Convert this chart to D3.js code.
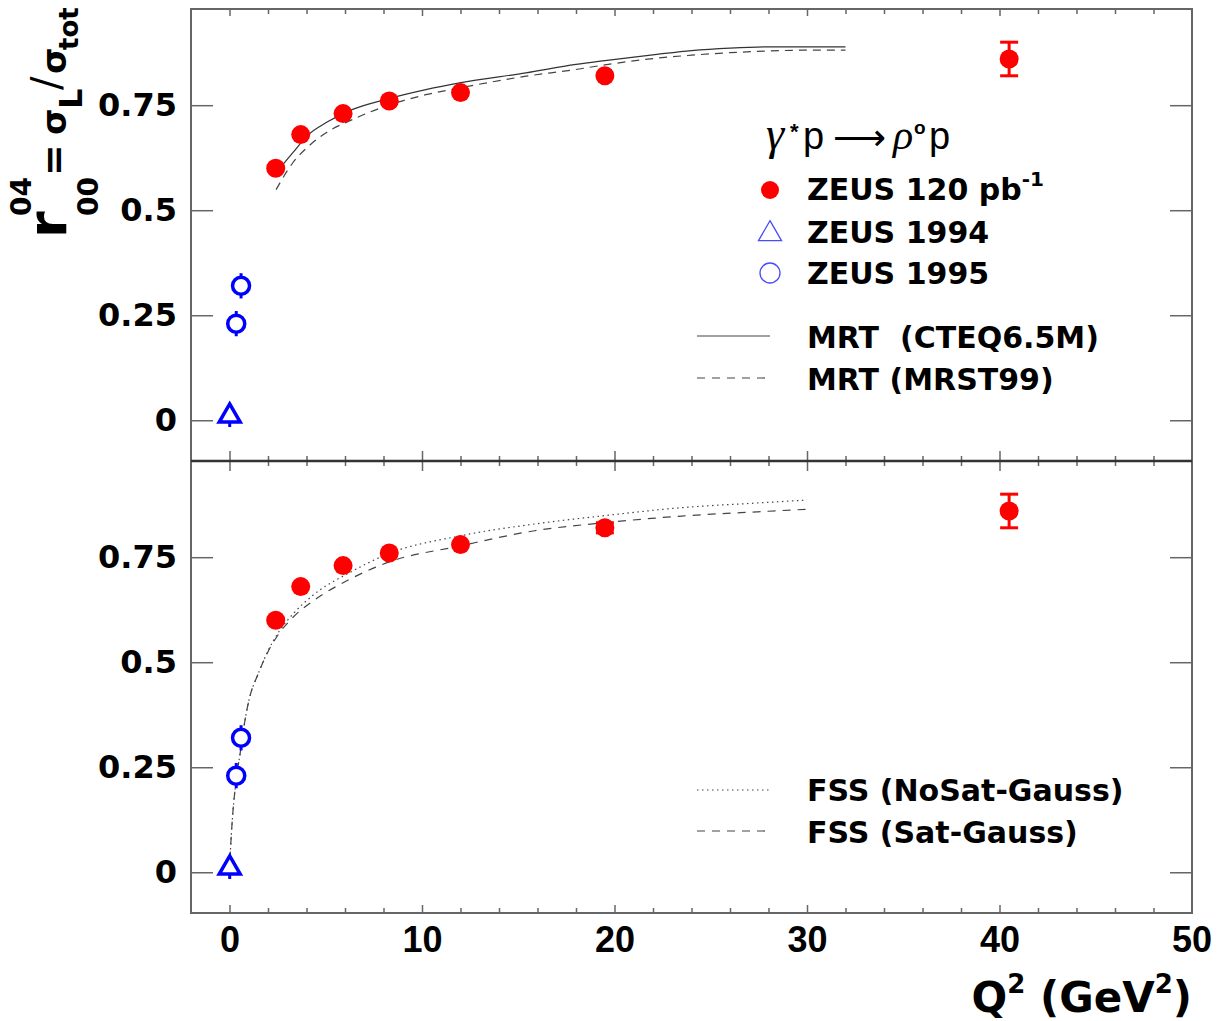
<html>
  <head>
    <meta charset="utf-8"/>
    <style>
      body {
        margin: 0;
        background: white;
      }
    </style>
    <script src="https://d3js.org/d3.v7.min.js"></script>
  </head>
  <body>
    <script>
    // ---- data ----
    // ZEUS 120 pb-1
    var zeusQ2 = [2.4, 3.7, 5.9, 8.3, 12.0, 19.5, 40.5];
    var zeusR = [0.60, 0.68, 0.73, 0.76, 0.78, 0.82, 0.86];
    var zeusErrTop = [0, 0, 0, 0, 0, 0, 0.04];
    var zeusErrBottom = [0, 0, 0, 0, 0, 0.012, 0.04];
    // ZEUS 1994
    var zeus94Q2 = [0.01];
    var zeus94R = [0.01];
    var zeus94Err = [0.026];
    // ZEUS 1995
    var zeus95Q2 = [0.35, 0.6];
    var zeus95R = [0.23, 0.32];
    var zeus95Err = [0.03, 0.03];

    // MRT curves (top panel)
    var mrtCteqQ2 = [2.42, 3.29, 4.1, 5.0, 6.4, 8.14, 10.2, 11.95, 15.4, 18.0, 19.5, 22.2, 24, 26, 28, 30, 32];
    var mrtCteqR = [0.589, 0.637, 0.680, 0.708, 0.740, 0.764, 0.787, 0.803, 0.827, 0.847, 0.856, 0.871, 0.880, 0.886, 0.889, 0.889, 0.889];
    var mrtMrstQ2 = [2.42, 3.29, 4.1, 5.0, 6.4, 8.14, 10.2, 11.95, 15.4, 18.0, 19.5, 22.2, 24, 26, 28, 30, 32];
    var mrtMrstR = [0.549, 0.613, 0.652, 0.684, 0.716, 0.748, 0.775, 0.791, 0.819, 0.835, 0.846, 0.862, 0.869, 0.875, 0.879, 0.881, 0.881];

    // FSS curves (bottom panel)
    var fssNoSatQ2 = [0.02, 0.17, 0.35, 0.61, 0.78, 1.04, 1.47, 2.0, 2.6, 3.3, 4.35, 6.27, 8.19, 12.0, 15.85, 19.7, 23.5, 27.4, 30];
    var fssNoSatR = [0.03, 0.14, 0.22, 0.30, 0.355, 0.415, 0.47, 0.527, 0.575, 0.615, 0.66, 0.714, 0.757, 0.801, 0.829, 0.850, 0.868, 0.879, 0.886];
    var fssSatQ2 = [0.02, 0.17, 0.35, 0.61, 0.78, 1.04, 1.47, 2.0, 2.6, 3.3, 4.35, 6.27, 8.19, 12.0, 15.85, 19.7, 23.5, 27.4, 30];
    var fssSatR = [0.03, 0.14, 0.22, 0.30, 0.355, 0.415, 0.47, 0.525, 0.57, 0.607, 0.646, 0.698, 0.737, 0.777, 0.813, 0.833, 0.848, 0.858, 0.864];

    var xMajor = [0, 10, 20, 30, 40, 50];
    var xMinor = d3.range(2, 50, 2).filter(d => d % 10 != 0);
    var yMajor = [0, 0.25, 0.5, 0.75];

    var W = 1219, H = 1021;
    var left = 191, right = 1192;
    var svg = d3.select("body").append("svg").attr("width", W).attr("height", H)
      .attr("font-family", "DejaVu Sans").attr("font-weight", "bold");

    var x = d3.scaleLinear().domain([-2, 50]).range([left, right]);
    var panels = [
      {top: 9, bottom: 461},
      {top: 461, bottom: 913}
    ];
    panels.forEach(p => {
      p.y = d3.scaleLinear().domain([-0.097, 0.979]).range([p.bottom, p.top]);
    });

    function pts(xs, ys) { return xs.map((q, i) => [q, ys[i]]); }

    var frameCol = "#666";

    panels.forEach((p, pi) => {
      var g = svg.append("g");
      var y = p.y;

      // y axes (left with labels, right ticks only)
      var ly = g.append("g").attr("transform", "translate(" + left + ",0)")
        .call(d3.axisLeft(y).tickValues(yMajor).tickSize(-22).tickSizeOuter(0).tickPadding(14)
          .tickFormat(d => d == 0 ? "0" : String(d)));
      ly.select(".domain").remove();
      ly.selectAll("line").attr("stroke", frameCol).attr("stroke-width", 1.5);
      ly.selectAll("text").attr("font-family", "DejaVu Sans").attr("font-weight", "bold")
        .attr("font-size", 32).attr("fill", "#000");

      var ry = g.append("g").attr("transform", "translate(" + right + ",0)")
        .call(d3.axisRight(y).tickValues(yMajor).tickSize(-22).tickSizeOuter(0).tickFormat(""));
      ry.select(".domain").remove();
      ry.selectAll("line").attr("stroke", frameCol).attr("stroke-width", 1.5);

      // x ticks on bottom and top edges of panel
      var bigB = pi == 0 ? 10 : 8, bigT = pi == 0 ? 7 : 10;
      var bx = g.append("g").attr("transform", "translate(0," + p.bottom + ")")
        .call(d3.axisBottom(x).tickValues(xMajor.slice(0, 5)).tickSize(-bigB).tickSizeOuter(0).tickPadding(13)
          .tickFormat(d => pi == 1 ? d : ""));
      var bx2 = g.append("g").attr("transform", "translate(0," + p.bottom + ")")
        .call(d3.axisBottom(x).tickValues(xMinor).tickSize(-5).tickSizeOuter(0).tickFormat(""));
      var tx = g.append("g").attr("transform", "translate(0," + p.top + ")")
        .call(d3.axisTop(x).tickValues(xMajor.slice(0, 5)).tickSize(-bigT).tickSizeOuter(0).tickFormat(""));
      var tx2 = g.append("g").attr("transform", "translate(0," + p.top + ")")
        .call(d3.axisTop(x).tickValues(xMinor).tickSize(-5).tickSizeOuter(0).tickFormat(""));
      [bx, bx2, tx, tx2].forEach(a => {
        a.select(".domain").remove();
        a.selectAll("line").attr("stroke", frameCol).attr("stroke-width", 1.5);
      });
      if (pi == 1) {
        // label "50" sits at the frame edge
        bx.append("g").attr("class", "tick").attr("transform", "translate(" + x(50) + ",0)")
          .append("text").attr("y", 13).attr("dy", "0.71em").text("50");
        bx.selectAll("text").attr("font-family", "Liberation Sans").attr("font-weight", "bold")
          .attr("font-size", 36).attr("fill", "#000").attr("text-anchor", "middle");
      }

      // frame
      g.append("rect").attr("x", left).attr("y", p.top)
        .attr("width", right - left).attr("height", p.bottom - p.top)
        .attr("fill", "none").attr("stroke", frameCol).attr("stroke-width", 2);
    });

    // separator
    svg.append("line").attr("x1", left).attr("x2", right)
      .attr("y1", panels[0].bottom).attr("y2", panels[0].bottom)
      .attr("stroke", "#333").attr("stroke-width", 2.5);

    // ---- curves ----
    var topP = panels[0], botP = panels[1];
    function lineFor(p) {
      return d3.line().x(d => x(d[0])).y(d => p.y(d[1])).curve(d3.curveMonotoneX);
    }
    svg.append("path").datum(pts(mrtCteqQ2, mrtCteqR)).attr("d", lineFor(topP))
      .attr("fill", "none").attr("stroke", "#333").attr("stroke-width", 1.2);
    svg.append("path").datum(pts(mrtMrstQ2, mrtMrstR)).attr("d", lineFor(topP))
      .attr("fill", "none").attr("stroke", "#444").attr("stroke-width", 1.2).attr("stroke-dasharray", "8,6");
    svg.append("path").datum(pts(fssNoSatQ2, fssNoSatR)).attr("d", lineFor(botP))
      .attr("fill", "none").attr("stroke", "#444").attr("stroke-width", 1.2).attr("stroke-dasharray", "1.5,3.5");
    svg.append("path").datum(pts(fssSatQ2, fssSatR)).attr("d", lineFor(botP))
      .attr("fill", "none").attr("stroke", "#444").attr("stroke-width", 1.2).attr("stroke-dasharray", "8,7");

    // ---- data points ----
    var red = "#ff0000", blue = "#0000ff";
    function errBar(g, cx, y1, y2, col, w, cap) {
      g.append("line").attr("x1", cx).attr("x2", cx).attr("y1", y1).attr("y2", y2)
        .attr("stroke", col).attr("stroke-width", w);
      if (cap > 0) {
        [y1, y2].forEach(yy => g.append("line").attr("x1", cx - cap).attr("x2", cx + cap)
          .attr("y1", yy).attr("y2", yy).attr("stroke", col).attr("stroke-width", w));
      }
    }
    panels.forEach((p, pi) => {
      var g = svg.append("g");
      var y = p.y;
      var errs = pi == 0 ? zeusErrTop : zeusErrBottom;
      zeusQ2.forEach((q, i) => {
        if (errs[i] > 0) errBar(g, x(q), y(zeusR[i] + errs[i]), y(zeusR[i] - errs[i]), red, 3, 9);
        g.append("circle").attr("cx", x(q)).attr("cy", y(zeusR[i])).attr("r", 9.5).attr("fill", red);
      });
      zeus95Q2.forEach((q, i) => {
        errBar(g, x(q), y(zeus95R[i] + zeus95Err[i]), y(zeus95R[i] - zeus95Err[i]), blue, 3, 0);
        g.append("circle").attr("cx", x(q)).attr("cy", y(zeus95R[i])).attr("r", 8.5)
          .attr("fill", "white").attr("stroke", blue).attr("stroke-width", 3.5);
      });
      zeus94Q2.forEach((q, i) => {
        errBar(g, x(q), y(zeus94R[i] + zeus94Err[i]), y(zeus94R[i] - zeus94Err[i]), blue, 3, 0);
        g.append("path").attr("d", d3.symbol(d3.symbolTriangle, 190)())
          .attr("transform", "translate(" + x(q) + "," + y(zeus94R[i]) + ")")
          .attr("fill", "white").attr("stroke", blue).attr("stroke-width", 3.5);
      });
    });

    // ---- legends ----
    var lg = svg.append("g");
    // reaction label, pieces placed one by one
    function rt(xx, yy, s, size, fam, style) {
      return lg.append("text").attr("x", xx).attr("y", yy).attr("font-size", size)
        .attr("font-family", fam).attr("font-weight", "normal").attr("font-style", style || "normal").text(s);
    }
    rt(766, 149, "γ", 46, "Liberation Serif", "italic");
    rt(790, 139, "*", 22, "Liberation Sans").attr("font-weight", "bold");
    rt(803, 149, "p", 38, "Liberation Sans");
    rt(833, 150, "⟶", 37, "DejaVu Sans");
    rt(893, 149, "ρ", 42, "Liberation Serif", "italic");
    rt(914, 134, "o", 19, "Liberation Sans").attr("font-weight", "bold");
    rt(929, 149, "p", 38, "Liberation Sans");

    var textX = 807;
    function legText(yb, s) {
      return lg.append("text").attr("x", textX).attr("y", yb).attr("font-size", 30).text(s);
    }
    lg.append("circle").attr("cx", 770).attr("cy", 190).attr("r", 9).attr("fill", red);
    var t1 = legText(200, "ZEUS 120 pb");
    t1.append("tspan").attr("font-size", 20).attr("dy", -14).text("-1");
    lg.append("path").attr("d", d3.symbol(d3.symbolTriangle, 230)())
      .attr("transform", "translate(770,234)")
      .attr("fill", "none").attr("stroke", "#4a4aff").attr("stroke-width", 1.3);
    legText(243, "ZEUS 1994");
    lg.append("circle").attr("cx", 770).attr("cy", 273).attr("r", 10)
      .attr("fill", "none").attr("stroke", "#4a4aff").attr("stroke-width", 1.3);
    legText(284, "ZEUS 1995");

    function legLine(yy, dash) {
      lg.append("line").attr("x1", 697).attr("x2", 770).attr("y1", yy).attr("y2", yy)
        .attr("stroke", "#444").attr("stroke-width", 1.2).attr("stroke-dasharray", dash);
    }
    legLine(336, null);
    legText(348, "MRT  (CTEQ6.5M)").attr("xml:space", "preserve");
    legLine(378, "8,7");
    legText(390, "MRT (MRST99)");
    legLine(790, "1.5,3.5");
    legText(801, "FSS (NoSat-Gauss)");
    legLine(831, "8,7");
    legText(843, "FSS (Sat-Gauss)");

    // ---- axis titles ----
    var xt = svg.append("text").attr("x", right).attr("y", 1012).attr("text-anchor", "end").attr("font-size", 42);
    xt.append("tspan").text("Q");
    xt.append("tspan").attr("font-size", 26).attr("dy", -19).text("2");
    xt.append("tspan").attr("dy", 19).text(" (GeV");
    xt.append("tspan").attr("font-size", 26).attr("dy", -19).text("2");
    xt.append("tspan").attr("dy", 19).text(")");

    var yt = svg.append("g").attr("transform", "translate(66,238) rotate(-90)")
      .append("text").attr("font-size", 32);
    yt.append("tspan").attr("x", 0).attr("y", 0).attr("font-size", 54).text("r");
    yt.append("tspan").attr("x", 22).attr("y", -35).attr("font-size", 28).text("04");
    yt.append("tspan").attr("x", 22).attr("y", 32).attr("font-size", 28).text("00");
    yt.append("tspan").attr("x", 62).attr("y", 0).attr("font-size", 38).text("=");
    yt.append("tspan").attr("x", 103).attr("y", 0).attr("font-size", 34).text("σ");
    yt.append("tspan").attr("x", 129).attr("y", 16).attr("font-size", 32).text("L");
    yt.append("tspan").attr("x", 148).attr("y", -6).attr("font-size", 40).attr("font-weight", "normal").text("/");
    yt.append("tspan").attr("x", 164).attr("y", 0).attr("font-size", 34).text("σ");
    yt.append("tspan").attr("x", 188).attr("y", 12).attr("font-size", 26).text("tot");
    </script>
  </body>
</html>
